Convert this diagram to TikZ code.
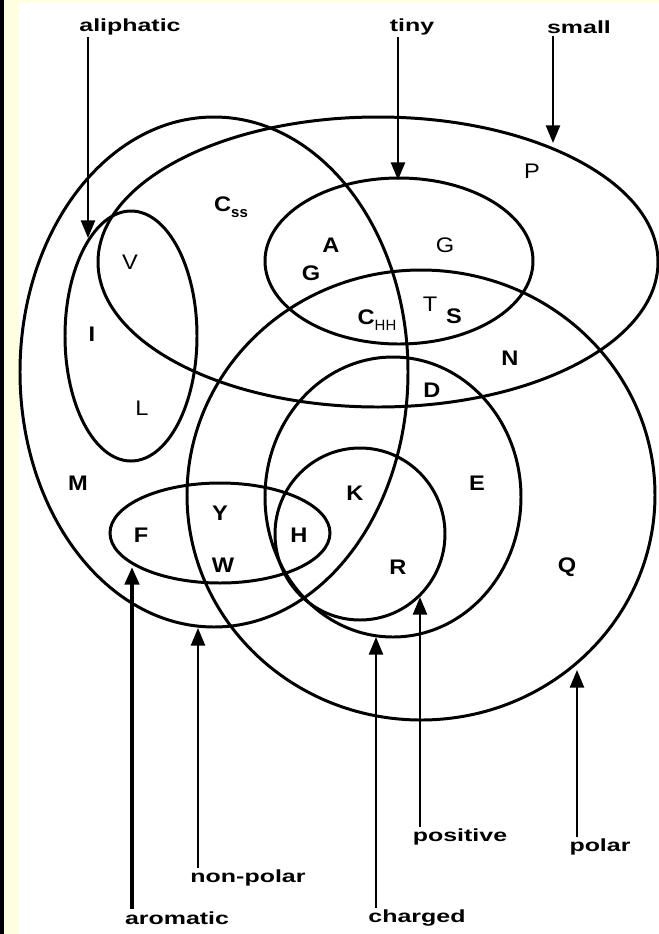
\documentclass[tikz,border=0pt]{standalone}
\usepackage{fontspec}
\setmainfont{Liberation Sans}
\usepackage{graphicx}
\usepackage{xcolor}
\usepackage{tikz}
\usetikzlibrary{arrows.meta}
\definecolor{cadrejaune}{HTML}{FFFFE0}
\newcommand{\etire}[1]{\scalebox{1.42}[1]{#1}}
\newcommand{\lettre}[1]{\scalebox{1.12}[1]{#1}}

\begin{document}
\begin{tikzpicture}[
                    x=0.02cm, y=-0.02cm,
                    ensemble/.style={
                        line width=1.7pt
                    },
                    fleche/.style={
                        -{Triangle[width=8pt,length=10pt]},
                        line width=1.2pt
                    },
                    propriete/.style={
                        inner sep=1pt,
                        font=\fontsize{10}{12}\selectfont\bfseries
                    },
                    aa/.style={
                        inner sep=0pt,
                        font=\fontsize{12}{14}\selectfont\bfseries
                    },
                    aafin/.style={
                        inner sep=0pt,
                        font=\fontsize{12}{14}\selectfont
                    }
                ]

                % Fond et cadre
                \useasboundingbox (0,0) rectangle (659,934);
                \fill[white] (0,0) rectangle (659,934);
                \fill[black] (0,0) rectangle (4,934);
                \fill[cadrejaune] (4,0) rectangle (19,934);
                \fill[cadrejaune] (19,0) rectangle (659,3);

                % Ensembles
                \draw[ensemble] (214,372) ellipse [x radius=194, y radius=255];
                \draw[ensemble] (378,262) ellipse [x radius=280, y radius=145];
                \draw[ensemble] (421,495) ellipse [x radius=234, y radius=225];
                \draw[ensemble] (399,261) ellipse [x radius=134, y radius=83];
                \draw[ensemble] (131,336) ellipse [x radius=66, y radius=125];
                \draw[ensemble] (393,497) ellipse [x radius=128, y radius=140];
                \draw[ensemble] (360,534) ellipse [x radius=85, y radius=86];
                \draw[ensemble] (220,533) ellipse [x radius=110, y radius=50];

                % Acides amines
                \node[aa] (css) at (231,207) {\lettre{C}\raisebox{-0.5ex}{\fontsize{8.5}{9}\selectfont ss}};
                \node[aafin] (pro) at (532,171) {\lettre{P}};
                \node[aafin] (val) at (130,262) {\lettre{V}};
                \node[aa] (ala) at (331,245) {\lettre{A}};
                \node[aa] (glyA) at (311,273) {\lettre{G}};
                \node[aafin] (glyB) at (445,245) {\lettre{G}};
                \node[aa] (ile) at (92,334) {\lettre{I}};
                \node[aa] (chh) at (377,320) {\lettre{C}\raisebox{-0.6ex}{\fontsize{8.5}{9}\selectfont\mdseries HH}};
                \node[aafin] (thr) at (430,304) {\lettre{T}};
                \node[aa] (ser) at (454,316) {\lettre{S}};
                \node[aa] (asn) at (510,358) {\lettre{N}};
                \node[aa] (asp) at (432,390) {\lettre{D}};
                \node[aafin] (leu) at (142,408) {\lettre{L}};
                \node[aa] (met) at (78,483) {\lettre{M}};
                \node[aa] (glu) at (477,483) {\lettre{E}};
                \node[aa] (lys) at (355,493) {\lettre{K}};
                \node[aa] (tyr) at (220,513) {\lettre{Y}};
                \node[aa] (phe) at (141,535) {\lettre{F}};
                \node[aa] (his) at (299,535) {\lettre{H}};
                \node[aa] (trp) at (223,565) {\lettre{W}};
                \node[aa] (arg) at (398,567) {\lettre{R}};
                \node[aa] (gln) at (567,567) {\lettre{Q}};

                % Etiquettes du haut
                \node[propriete] (lblAliph) at (130,27) {\etire{aliphatic}};
                \node[propriete] (lblTiny) at (412,27) {\etire{tiny}};
                \node[propriete] (lblSmall) at (579,27) {\etire{small}};

                \coordinate (pAliph) at (88,238);
                \coordinate (pTiny) at (398,180);
                \coordinate (pSmall) at (553,143);

                \draw[fleche] (pAliph |- lblAliph.south) -- (pAliph);
                \draw[fleche] (pTiny |- lblTiny.south) -- (pTiny);
                \draw[fleche] (pSmall |- lblSmall.south) -- (pSmall);

                % Etiquettes du bas
                \node[propriete] (lblNonpolar) at (248,878) {\etire{non-polar}};
                \node[propriete] (lblPositive) at (460,837) {\etire{positive}};
                \node[propriete] (lblPolar) at (600,847) {\etire{polar}};
                \node[propriete] (lblAromatic) at (177,918) {\etire{aromatic}};
                \node[propriete] (lblCharged) at (417,918) {\etire{charged}};

                \coordinate (pNonpolar) at (198,628);
                \coordinate (pPositive) at (420,597);
                \coordinate (pPolar) at (577,670);
                \coordinate (pAromatic) at (132,567);
                \coordinate (pCharged) at (376,637);

                \draw[fleche] (pNonpolar |- lblNonpolar.north) -- (pNonpolar);
                \draw[fleche] (pPositive |- lblPositive.north) -- (pPositive);
                \draw[fleche] (pPolar |- lblPolar.north) -- (pPolar);
                \draw[fleche, line width=2.4pt] (pAromatic |- lblAromatic.north) -- (pAromatic);
                \draw[fleche] (pCharged |- lblCharged.north) -- (pCharged);

            \end{tikzpicture}
\end{document}
